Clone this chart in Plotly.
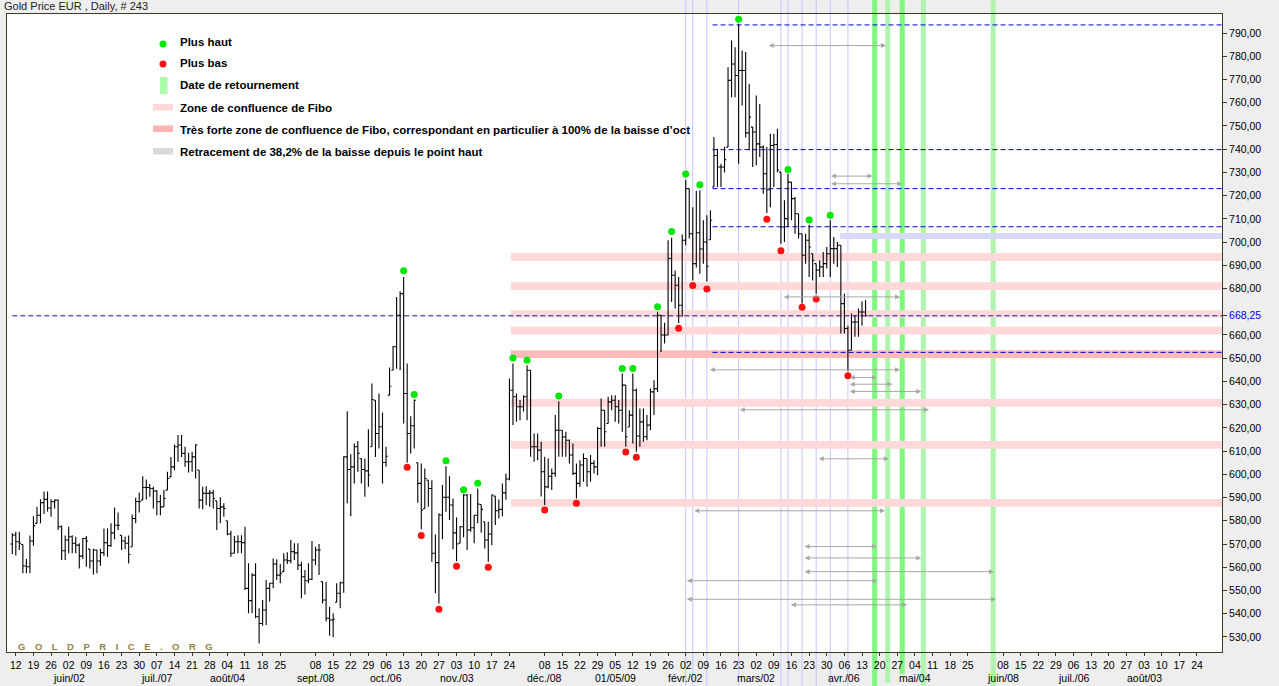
import pandas as pd
import plotly.graph_objects as go

TITLE = "Gold Price EUR , Daily, # 243"
FIRST_DAY = "2008-05-09"
AXIS_DAYS = 345
LAST_TICK = "2009-08-24"
SKIPPED_MONDAYS = ["2008-09-01", "2008-12-01", "2009-06-01"]

HIGH = [574.6, 575.3, 575.3, 569.8, 563.5, 573.7, 582.0, 586.0, 589.3, 592.6,
        592.6, 589.3, 589.2, 589.2, 578.0, 573.7, 577.4, 573.8, 573.1, 570.3,
        572.7, 573.4, 567.8, 568.0, 567.5, 568.0, 576.7, 576.7, 578.9, 585.7,
        583.6, 573.7, 573.1, 573.7, 582.7, 589.9, 592.2, 599.2, 597.8, 595.8,
        594.6, 593.2, 591.1, 593.2, 601.1, 607.5, 612.8, 616.9, 616.9, 611.9,
        609.3, 609.7, 613.0, 601.8, 594.6, 594.9, 593.2, 593.2, 588.6, 590.1,
        587.5, 580.0, 575.7, 573.4, 573.8, 573.8, 577.4, 561.7, 557.4, 561.7,
        542.3, 545.9, 554.5, 553.3, 563.8, 563.4, 561.4, 566.0, 566.4, 571.7,
        570.3, 570.3, 562.4, 558.8, 561.7, 571.3, 568.8, 570.0, 553.8, 553.8,
        543.0, 540.2, 553.1, 553.8, 607.8, 627.2, 608.6, 613.3, 614.4, 606.8,
        606.8, 619.4, 639.1, 631.9, 634.8, 626.6, 611.9, 646.0, 655.2, 676.4,
        678.8, 685.0, 647.7, 625.0, 632.2, 605.0, 604.7, 602.5, 597.5, 597.5,
        574.1, 583.2, 595.4, 603.5, 599.2, 589.6, 581.4, 577.7, 591.5, 591.5,
        591.5, 582.4, 593.9, 587.0, 579.6, 579.6, 591.3, 590.6, 589.2, 596.0,
        600.4, 641.3, 647.7, 634.8, 632.0, 634.1, 647.0, 644.8, 617.6, 617.6,
        614.0, 607.6, 606.8, 602.5, 625.5, 631.5, 619.0, 618.3, 615.0, 613.3,
        604.7, 606.1, 609.0, 606.8, 608.3, 606.1, 620.4, 632.7, 627.6, 633.4,
        634.1, 634.1, 632.0, 643.4, 638.4, 627.6, 643.4, 636.9, 628.3, 628.3,
        625.5, 636.9, 640.5, 670.0, 668.5, 665.3, 700.8, 701.9, 687.8, 685.0,
        703.3, 726.7, 723.0, 715.0, 722.0, 722.3, 709.4, 711.5, 713.7, 745.2,
        740.2, 733.7, 741.0, 775.3, 786.8, 783.9, 794.0, 782.5, 781.8, 768.1,
        749.5, 763.1, 759.5, 741.6, 740.9, 746.6, 746.6, 748.8, 730.1, 718.0,
        729.4, 725.8, 719.4, 712.2, 703.6, 703.6, 707.5, 695.0, 690.7, 692.2,
        695.7, 697.9, 709.4, 702.2, 700.0, 698.6, 677.8, 664.0, 669.2, 668.5,
        671.4, 674.5, 675.0]

LOW = [565.7, 565.0, 567.4, 557.4, 557.4, 557.4, 569.3, 578.9, 578.9, 582.9,
       584.0, 581.7, 585.3, 576.0, 563.1, 563.1, 566.0, 566.0, 566.0, 559.5,
       563.5, 560.2, 559.5, 556.9, 557.4, 560.6, 564.8, 564.5, 568.8, 572.0,
       576.0, 567.4, 567.7, 561.6, 568.8, 578.9, 583.6, 588.9, 589.2, 590.3,
       585.3, 582.4, 582.4, 586.0, 593.2, 598.9, 601.8, 605.4, 607.5, 603.3,
       600.8, 601.1, 598.2, 585.3, 585.0, 586.8, 586.0, 585.3, 576.0, 578.9,
       581.7, 573.8, 564.5, 566.0, 566.0, 566.0, 550.2, 540.2, 540.2, 538.0,
       527.2, 534.8, 535.1, 545.2, 550.9, 554.5, 553.1, 558.1, 561.4, 561.7,
       563.1, 558.8, 546.6, 548.3, 553.1, 554.5, 560.9, 556.6, 544.4, 536.6,
       530.5, 529.8, 544.9, 542.3, 549.0, 587.5, 582.0, 596.1, 601.1, 596.1,
       590.3, 594.6, 611.9, 607.5, 611.1, 596.1, 603.3, 634.1, 644.8, 645.5,
       644.8, 621.9, 605.1, 609.0, 611.1, 587.8, 576.3, 585.3, 586.0, 562.4,
       548.8, 544.4, 572.0, 583.9, 580.3, 567.7, 562.6, 570.3, 572.9, 567.4,
       575.3, 570.3, 578.9, 574.8, 568.1, 562.4, 569.5, 578.2, 581.0, 582.0,
       589.0, 597.5, 621.2, 622.6, 623.3, 627.0, 623.3, 607.6, 605.4, 606.1,
       590.4, 586.8, 594.0, 593.2, 599.0, 607.6, 607.6, 607.6, 604.7, 599.7,
       589.6, 594.7, 596.8, 594.7, 596.8, 600.4, 599.6, 611.9, 611.9, 621.9,
       627.6, 622.6, 621.9, 618.3, 611.9, 620.4, 613.3, 609.7, 611.9, 614.0,
       614.7, 619.0, 625.5, 635.5, 652.7, 656.3, 659.9, 674.2, 671.4, 665.2,
       667.8, 698.6, 701.5, 683.5, 689.0, 686.4, 690.7, 683.0, 701.0, 723.7,
       723.7, 723.7, 730.0, 740.9, 762.4, 762.4, 733.7, 758.8, 745.0, 739.5,
       732.3, 733.0, 736.6, 720.8, 712.5, 715.0, 723.7, 730.1, 699.3, 700.0,
       706.5, 709.4, 703.6, 701.5, 673.5, 690.7, 685.0, 683.5, 677.8, 685.0,
       685.0, 688.6, 685.0, 690.7, 689.3, 660.6, 660.6, 644.5, 653.4, 659.2,
       659.2, 664.0, 668.0]

OPEN = [570.0, 573.9, 571.0, 569.8, 560.5, 560.2, 571.3, 578.9, 582.4, 587.8,
        589.2, 585.5, 588.2, 588.9, 577.4, 567.1, 571.7, 573.1, 570.3, 569.5,
        564.8, 572.4, 567.8, 562.7, 567.4, 562.7, 566.3, 570.6, 569.3, 574.8,
        578.1, 573.7, 571.3, 570.3, 568.8, 581.0, 588.3, 588.9, 594.3, 594.3,
        593.9, 592.8, 588.2, 586.0, 593.2, 598.9, 603.2, 611.9, 612.6, 609.0,
        605.4, 605.4, 607.5, 601.8, 588.9, 591.8, 591.8, 592.0, 588.6, 585.3,
        586.0, 580.0, 574.3, 566.0, 571.0, 571.0, 570.6, 550.9, 545.6, 556.6,
        538.7, 535.8, 541.6, 550.9, 553.1, 561.4, 556.6, 558.1, 563.1, 562.8,
        566.7, 566.2, 560.9, 555.9, 554.2, 554.8, 563.1, 567.4, 553.8, 545.9,
        538.0, 537.3, 544.9, 548.8, 553.3, 607.5, 602.1, 603.2, 611.9, 606.8,
        602.1, 601.5, 611.9, 631.9, 617.6, 620.5, 605.1, 634.1, 644.8, 654.9,
        668.5, 677.8, 634.8, 617.6, 620.9, 605.0, 596.1, 585.3, 597.5, 593.9,
        566.0, 562.0, 582.5, 590.1, 590.1, 586.8, 574.8, 570.3, 577.4, 591.1,
        576.0, 577.0, 582.4, 587.0, 579.6, 571.7, 574.3, 590.6, 584.3, 584.9,
        592.0, 598.0, 636.2, 633.4, 629.1, 629.1, 633.4, 644.8, 611.9, 611.9,
        610.4, 601.1, 594.6, 599.2, 600.4, 619.0, 619.0, 616.1, 614.7, 608.3,
        600.4, 596.1, 604.0, 606.8, 601.1, 604.7, 603.2, 619.7, 627.6, 621.9,
        631.2, 631.9, 629.1, 627.6, 638.4, 620.4, 625.5, 636.2, 616.5, 622.6,
        616.2, 621.2, 635.5, 636.9, 668.5, 660.0, 660.0, 692.9, 685.7, 681.4,
        672.8, 700.8, 723.0, 703.6, 690.7, 704.0, 697.0, 700.0, 701.0, 723.7,
        737.3, 732.3, 732.3, 740.9, 769.6, 776.7, 771.7, 773.9, 773.9, 747.0,
        749.5, 747.4, 742.3, 740.9, 729.4, 722.5, 741.6, 742.0, 730.1, 706.5,
        710.1, 725.8, 718.7, 712.2, 703.6, 694.3, 700.8, 695.0, 690.7, 688.0,
        689.3, 690.7, 695.0, 697.2, 697.2, 698.6, 673.5, 662.8, 653.4, 665.6,
        665.6, 669.9, 669.9]

CLOSE = [573.9, 571.0, 570.3, 560.5, 560.2, 571.3, 577.9, 582.4, 587.8, 589.2,
         585.5, 588.2, 588.9, 577.4, 567.1, 571.7, 573.1, 570.3, 569.5, 564.8,
         572.4, 571.3, 562.7, 567.4, 562.7, 566.3, 570.6, 569.3, 574.8, 578.1,
         578.1, 571.3, 570.3, 565.5, 581.0, 588.3, 588.2, 594.3, 594.3, 593.9,
         592.8, 588.2, 586.0, 589.6, 598.2, 603.2, 611.9, 612.6, 609.0, 605.4,
         605.4, 607.5, 612.6, 588.9, 591.8, 591.8, 592.0, 589.6, 585.3, 586.0,
         585.3, 574.3, 566.0, 571.0, 571.0, 570.6, 550.9, 545.6, 556.6, 538.7,
         535.8, 541.6, 550.9, 553.1, 561.4, 556.6, 557.4, 563.1, 562.8, 566.7,
         566.2, 560.9, 555.9, 554.2, 554.8, 563.1, 567.4, 567.4, 545.9, 538.0,
         537.3, 537.6, 548.8, 553.3, 607.5, 602.1, 603.2, 611.9, 609.0, 602.1,
         601.5, 599.7, 632.2, 617.6, 620.5, 605.1, 607.8, 637.9, 654.9, 668.5,
         677.8, 634.8, 617.6, 620.9, 631.9, 596.1, 584.6, 598.2, 593.9, 566.0,
         562.0, 582.5, 590.1, 590.1, 586.8, 574.8, 570.0, 577.4, 591.1, 576.0,
         577.0, 582.4, 587.2, 584.9, 571.7, 574.3, 591.1, 584.3, 584.9, 592.0,
         598.0, 636.2, 633.4, 629.1, 629.1, 633.4, 644.8, 611.9, 611.9, 610.4,
         601.1, 594.6, 599.2, 600.4, 619.0, 619.0, 616.1, 614.7, 608.3, 600.4,
         596.1, 604.0, 606.8, 601.1, 604.7, 603.2, 619.7, 627.6, 618.3, 631.2,
         631.9, 629.1, 627.6, 638.4, 616.2, 625.5, 636.2, 616.5, 622.6, 616.2,
         621.2, 635.5, 636.9, 668.5, 660.0, 660.0, 692.9, 685.7, 681.4, 672.8,
         700.8, 723.0, 703.6, 690.7, 704.0, 697.0, 700.0, 689.6, 709.4, 737.3,
         732.3, 732.3, 735.5, 769.6, 776.7, 771.7, 773.9, 773.9, 747.0, 753.8,
         747.4, 742.3, 740.9, 729.4, 722.5, 741.6, 742.0, 731.0, 706.5, 710.1,
         725.8, 718.7, 712.2, 703.6, 694.3, 700.8, 697.9, 692.2, 688.0, 689.3,
         690.7, 695.0, 697.2, 697.2, 698.6, 673.5, 662.8, 653.4, 665.6, 665.6,
         669.9, 669.9, 668.25]

# pivots (bar index, value of the dot)
HIGH_PIVOT_IDX = [111, 114, 123, 128, 132, 142, 146, 155, 173, 176, 183, 187, 191, 195, 206, 220, 226, 232]
HIGH_PIVOT_VAL = [687.7, 634.4, 605.8, 593.4, 596.2, 650.1, 649.1, 633.7, 645.6, 645.6, 672.1, 704.6, 729.3, 724.7, 795.9, 731.2, 709.5, 711.6]
LOW_PIVOT_IDX = [112, 116, 121, 126, 135, 151, 160, 174, 177, 189, 193, 197, 214, 218, 224, 228, 237]
LOW_PIVOT_VAL = [603.1, 573.7, 541.9, 560.4, 560.0, 584.6, 587.5, 609.6, 607.3, 662.9, 681.3, 679.8, 709.8, 696.3, 671.9, 675.5, 642.4]

# thin vertical marks on pivot dates
PIVOT_LINES = [191, 193, 197, 206, 218, 220, 224, 228, 232, 237]

# turning dates (bar index), strong or weak
TURN_DATES = [244.6, 248.3, 252.4, 258.4, 278.2]
TURN_STRONG = [True, False, True, False, False]

# Fibonacci confluence zones (low, high, strong?)
ZONE_START = 141.4
ZONE_LOW = [691.8, 679.4, 667.5, 660.2, 650.1, 629.1, 611.0, 586.0]
ZONE_HIGH = [695.3, 682.7, 670.6, 663.5, 653.4, 632.4, 614.3, 589.4]
ZONE_STRONG = [False, False, False, False, True, False, False, False]
RETRACE_LOW, RETRACE_HIGH, RETRACE_START = 701.3, 703.9, 234.7

# blue dashed levels
LAST_CLOSE = 668.25
LEVELS = [793.5, 739.8, 723.0, 706.6, 652.5]
LEVEL_START = 198.6

# time projections (y, from bar, to bar)
ARROW_Y = [784.6, 728.4, 725.1, 676.4, 645.0, 641.7, 638.8, 635.7, 627.8,
           606.7, 584.3, 568.9, 564.0, 558.1, 554.2, 546.2, 543.8]
ARROW_FROM = [214.1, 231.8, 231.8, 218.4, 197.4, 237.1, 237.1, 237.1, 205.9,
              228.3, 193.0, 224.3, 224.3, 224.3, 190.9, 190.9, 220.4]
ARROW_TO = [247.8, 244.0, 252.4, 251.8, 251.8, 245.2, 249.6, 257.8, 260.0,
            248.6, 247.5, 245.2, 257.8, 278.4, 245.4, 279.0, 253.8]

MONTH_LABELS = [("2008-06-02", "juin/02"), ("2008-07-07", "juil./07"), ("2008-08-04", "août/04"),
                ("2008-09-08", "sept./08"), ("2008-10-06", "oct./06"), ("2008-11-03", "nov./03"),
                ("2008-12-08", "déc./08"), ("2009-01-05", "01/05/09"), ("2009-02-02", "févr./02"),
                ("2009-03-02", "mars/02"), ("2009-04-06", "avr./06"), ("2009-05-04", "mai/04"),
                ("2009-06-08", "juin/08"), ("2009-07-06", "juil./06"), ("2009-08-03", "août/03")]

Y_TICKS = [530, 540, 550, 560, 570, 580, 590, 600, 610, 620, 630, 640, 650, 660,
           680, 690, 700, 710, 720, 730, 740, 750, 760, 770, 780, 790]

LEGEND = ["Plus haut", "Plus bas", "Date de retournement", "Zone de confluence de Fibo",
          "Très forte zone de confluence de Fibo, correspondant en particulier à 100% de la baisse d’oct",
          "Retracement de 38,2% de la baisse depuis le point haut"]

WATERMARK = "GOLDPRICE.ORG"

# ---------------------------------------------------------------------------
W, H = 1279, 686
ML, MR, MT, MB = 7, 57, 14, 34
PW, PH = W - ML - MR, H - MT - MB
XR = [-1.5, 343.1]
YR = [523.5, 798.2]
FONT = "Liberation Sans"
BORDER = "#3d3b22"


def px(x):
    return (x - ML) / PW


def py(y):
    return (H - MB - y) / PH


days = pd.bdate_range(FIRST_DAY, periods=AXIS_DAYS)
pos = {d.strftime("%Y-%m-%d"): i for i, d in enumerate(days)}
tickvals, ticktext = [], []
for i, d in enumerate(days):
    s = d.strftime("%Y-%m-%d")
    if d.weekday() == 0 and s not in SKIPPED_MONDAYS and s <= LAST_TICK:
        tickvals.append(i)
        ticktext.append(d.strftime("%d"))

bars = list(range(len(CLOSE)))

fig = go.Figure()
fig.add_trace(go.Ohlc(x=bars, open=OPEN, high=HIGH, low=LOW, close=CLOSE,
                      increasing=dict(line=dict(color="black", width=1.1)),
                      decreasing=dict(line=dict(color="black", width=1.1)),
                      tickwidth=0.5, hoverinfo="skip", showlegend=False))
fig.add_trace(go.Scatter(x=HIGH_PIVOT_IDX, y=HIGH_PIVOT_VAL, mode="markers",
                         marker=dict(color="#00e800", size=7), hoverinfo="skip", showlegend=False))
fig.add_trace(go.Scatter(x=LOW_PIVOT_IDX, y=LOW_PIVOT_VAL, mode="markers",
                         marker=dict(color="#ff1010", size=7), hoverinfo="skip", showlegend=False))

shapes = []
for lo, hi, strong in zip(ZONE_LOW, ZONE_HIGH, ZONE_STRONG):
    shapes.append(dict(type="rect", xref="x", yref="y", x0=ZONE_START, x1=XR[1], y0=lo, y1=hi,
                       fillcolor="#ffbaba" if strong else "#ffd9d9", line=dict(width=0), layer="below"))
shapes.append(dict(type="rect", xref="x", yref="y", x0=RETRACE_START, x1=XR[1], y0=RETRACE_LOW,
                   y1=RETRACE_HIGH, fillcolor="#d8d8f8", line=dict(width=0), layer="below"))
for xv in PIVOT_LINES:
    shapes.append(dict(type="line", xref="x", yref="paper", x0=xv, x1=xv, y0=py(H), y1=py(0),
                       line=dict(color="#c4c4ff", width=1), layer="below"))
turn_bottom = [686, 683, 674, 686, 686]
for xv, strong, yb in zip(TURN_DATES, TURN_STRONG, turn_bottom):
    shapes.append(dict(type="rect", xref="x", yref="paper", x0=xv - 0.72, x1=xv + 0.72,
                       y0=py(yb), y1=py(0), fillcolor="#80f880" if strong else "#b0f4b0",
                       line=dict(width=0), layer="below"))
shapes.append(dict(type="line", xref="x", yref="y", x0=0, x1=XR[1], y0=LAST_CLOSE, y1=LAST_CLOSE,
                   line=dict(color="#1a1a9a", width=1, dash="5px,3px"), layer="below"))
for lv in LEVELS:
    shapes.append(dict(type="line", xref="x", yref="y", x0=LEVEL_START, x1=XR[1], y0=lv, y1=lv,
                       line=dict(color="#0000cc", width=1, dash="5px,3px"), layer="below"))

# legend symbols
shapes.append(dict(type="circle", xref="paper", yref="paper", x0=px(159.5), x1=px(166.5),
                   y0=py(47.5), y1=py(40.5), fillcolor="#00e800", line=dict(width=0)))
shapes.append(dict(type="circle", xref="paper", yref="paper", x0=px(159.5), x1=px(166.5),
                   y0=py(67.5), y1=py(60.5), fillcolor="#ff1010", line=dict(width=0)))
shapes.append(dict(type="rect", xref="paper", yref="paper", x0=px(160), x1=px(167.5),
                   y0=py(94), y1=py(77), fillcolor="#aaffaa", line=dict(width=0)))
for y0, col in [(104, "#ffd9d9"), (125.5, "#ffb3b3"), (148, "#d9d9d9")]:
    shapes.append(dict(type="rect", xref="paper", yref="paper", x0=px(153), x1=px(173),
                       y0=py(y0 + 6.5), y1=py(y0), fillcolor=col, line=dict(width=0)))

annotations = []
for (s, lab) in MONTH_LABELS:
    annotations.append(dict(x=pos[s], y=py(678), xref="x", yref="paper", text=lab, showarrow=False,
                            xanchor="center", yanchor="middle",
                            font=dict(family=FONT, size=10.5, color="black")))
for yv, a, b in zip(ARROW_Y, ARROW_FROM, ARROW_TO):
    annotations.append(dict(x=b, y=yv, ax=a, ay=yv, xref="x", yref="y", axref="x", ayref="y",
                            text="", showarrow=True, arrowside="end+start", arrowhead=2,
                            startarrowhead=2, arrowsize=1, startarrowsize=1, arrowwidth=1,
                            arrowcolor="#a8a8a8", standoff=0, startstandoff=0))
for k, lab in enumerate(LEGEND):
    annotations.append(dict(x=px(178), y=py([42, 63.5, 85.5, 107.5, 129.5, 151.5][k]),
                            xref="paper", yref="paper", text="<b>" + lab + "</b>", showarrow=False,
                            xanchor="left", yanchor="middle",
                            font=dict(family=FONT, size=11.5, color="black")))
annotations.append(dict(x=px(1.5), y=py(6.5), xref="paper", yref="paper", text=TITLE, showarrow=False,
                        xanchor="left", yanchor="middle", font=dict(family=FONT, size=11, color="#222")))
annotations.append(dict(x=px(16), y=py(646), xref="paper", yref="paper",
                        text="<b>" + "\u2002\u2002".join(WATERMARK) + "</b>", showarrow=False,
                        xanchor="left", yanchor="middle",
                        font=dict(family=FONT, size=9.5, color="#948246")))

yt_vals = Y_TICKS + [LAST_CLOSE]
yt_text = [f"{v:.2f}".replace(".", ",") for v in Y_TICKS] + \
          ['<span style="color:#0000ff">' + f"{LAST_CLOSE:.2f}".replace(".", ",") + "</span>"]

fig.update_layout(
    width=W, height=H, margin=dict(l=ML, r=MR, t=MT, b=MB, pad=0),
    paper_bgcolor="#eeeeee", plot_bgcolor="white", showlegend=False,
    shapes=shapes, annotations=annotations,
    xaxis=dict(range=XR, showgrid=False, zeroline=False, tickmode="array", tickvals=tickvals,
               ticktext=ticktext, ticks="outside", ticklen=3, tickcolor=BORDER,
               tickfont=dict(family=FONT, size=10.5, color="black"), showline=True,
               linecolor=BORDER, linewidth=1, mirror=True, rangeslider=dict(visible=False),
               fixedrange=True),
    yaxis=dict(range=YR, side="right", showgrid=False, zeroline=False, tickmode="array",
               tickvals=yt_vals, ticktext=yt_text, ticks="outside", ticklen=4, tickcolor=BORDER,
               tickfont=dict(family=FONT, size=10.5, color="black"), showline=True,
               linecolor=BORDER, linewidth=1, mirror=True, fixedrange=True),
)

fig.write_html("out.html", config={"displayModeBar": False},
               post_script="document.body.style.margin='0';document.body.style.overflow='hidden';")
